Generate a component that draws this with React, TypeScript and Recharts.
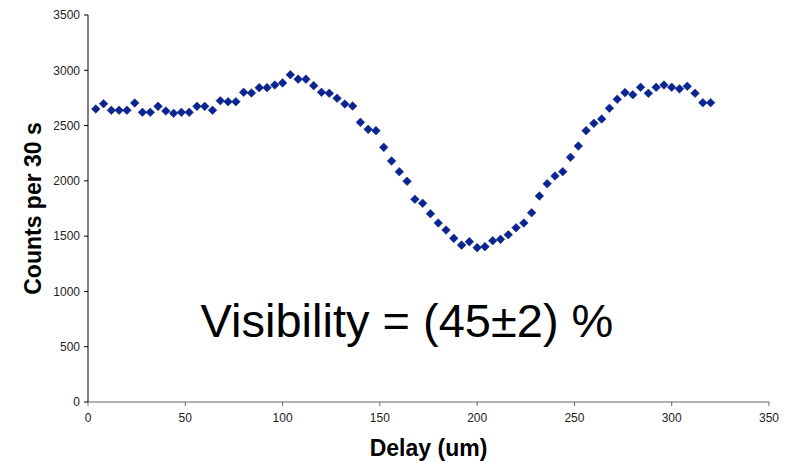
import { ScatterChart, Scatter, XAxis, YAxis, ZAxis } from 'recharts';

// delay positions (um) and measured counts per 30 s
const delays = [
    4, 8, 12, 16, 20, 24, 28, 32, 36, 40,
    44, 48, 52, 56, 60, 64, 68, 72, 76, 80,
    84, 88, 92, 96, 100, 104, 108, 112, 116, 120,
    124, 128, 132, 136, 140, 144, 148, 152, 156, 160,
    164, 168, 172, 176, 180, 184, 188, 192, 196, 200,
    204, 208, 212, 216, 220, 224, 228, 232, 236, 240,
    244, 248, 252, 256, 260, 264, 268, 272, 276, 280,
    284, 288, 292, 296, 300, 304, 308, 312, 316, 320,
];

const counts = [
    2650, 2698, 2638, 2638, 2638, 2704, 2620, 2620, 2674, 2632,
    2611, 2620, 2620, 2674, 2674, 2638, 2725, 2716, 2716, 2801,
    2795, 2843, 2843, 2867, 2886, 2960, 2920, 2920, 2861, 2801,
    2792, 2747, 2695, 2677, 2529, 2466, 2454, 2303, 2180, 2083,
    1996, 1833, 1797, 1703, 1619, 1555, 1480, 1419, 1450, 1396,
    1405, 1459, 1471, 1513, 1576, 1619, 1712, 1863, 1974, 2044,
    2083, 2213, 2315, 2454, 2520, 2559, 2656, 2738, 2798, 2779,
    2846, 2792, 2846, 2867, 2846, 2832, 2855, 2792, 2707, 2707,
];

const xTicks = [0, 50, 100, 150, 200, 250, 300, 350];
const yTicks = [0, 500, 1000, 1500, 2000, 2500, 3000, 3500];

const points = delays.map((d, i) => ({ delay: d, counts: counts[i] }));

const MARKER = '#0a2590';
const FONT = '"Liberation Sans", Arial, sans-serif';

const Diamond = (props: any) => {
    const { cx, cy } = props;
    const r = 4.3;
    return (
        <polygon
            points={`${cx},${cy - r} ${cx + r},${cy} ${cx},${cy + r} ${cx - r},${cy}`}
            fill={MARKER}
            stroke={MARKER}
            strokeWidth={0.6}
        />
    );
};

export default function App() {
    return (
        <div style={{ position: 'absolute', left: 0, top: 0, width: 788, height: 462, background: '#fff' }}>
            <ScatterChart width={788} height={462} margin={{ top: 15, right: 19, left: 0, bottom: 0 }}>
                <XAxis
                    type="number"
                    dataKey="delay"
                    domain={[0, 350]}
                    ticks={xTicks}
                    height={60}
                    stroke="#666"
                    tickLine={{ stroke: '#666' }}
                    tickSize={4}
                    tickMargin={7}
                    tick={{ fontSize: 12, fill: '#222', fontFamily: FONT }}
                    label={{
                        value: 'Delay (um)',
                        position: 'insideBottom',
                        offset: 6,
                        style: { fontSize: 23, fontWeight: 'bold', fill: '#000', fontFamily: FONT },
                    }}
                />
                <YAxis
                    type="number"
                    dataKey="counts"
                    domain={[0, 3500]}
                    ticks={yTicks}
                    width={88}
                    stroke="#000"
                    tickSize={4}
                    tickMargin={4}
                    tick={{ fontSize: 12, fill: '#222', fontFamily: FONT }}
                    label={{
                        value: 'Counts per 30 s',
                        angle: -90,
                        position: 'insideLeft',
                        offset: 33,
                        style: { fontSize: 23, fontWeight: 'bold', fill: '#000', fontFamily: FONT, textAnchor: 'middle' },
                    }}
                />
                <ZAxis range={[64, 64]} />
                <Scatter data={points} shape={<Diamond />} isAnimationActive={false} />
                <text x={407} y={337} textAnchor="middle" fontSize={47} fontFamily={FONT} fill="#000">
                    Visibility = (45±2) %
                </text>
            </ScatterChart>
        </div>
    );
}
